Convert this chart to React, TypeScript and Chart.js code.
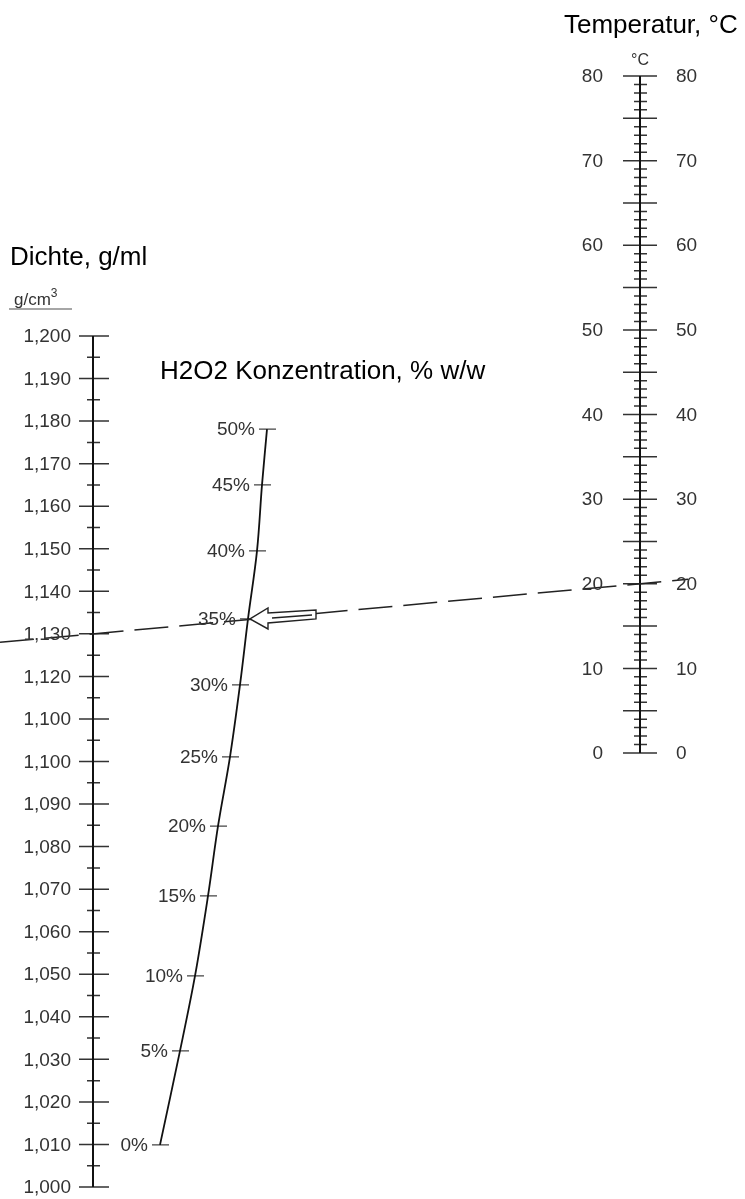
import React, { useEffect, useRef } from "react";
import { Chart, registerables } from "chart.js";
Chart.register(...registerables);

const W = 745;
const H = 1199;

// ---- Data ----
const densityValues = [1.2, 1.19, 1.18, 1.17, 1.16, 1.15, 1.14, 1.13, 1.12, 1.11, 1.1, 1.09, 1.08, 1.07, 1.06, 1.05, 1.04, 1.03, 1.02, 1.01, 1.0];
const densityLabels = ["1,200", "1,190", "1,180", "1,170", "1,160", "1,150", "1,140", "1,130", "1,120", "1,100", "1,100", "1,090", "1,080", "1,070", "1,060", "1,050", "1,040", "1,030", "1,020", "1,010", "1,000"];
const densityMinor = [1.195, 1.185, 1.175, 1.165, 1.155, 1.145, 1.135, 1.125, 1.115, 1.105, 1.095, 1.085, 1.075, 1.065, 1.055, 1.045, 1.035, 1.025, 1.015, 1.005];

const tempValues = [0, 10, 20, 30, 40, 50, 60, 70, 80];
const tempLabels = ["0", "10", "20", "30", "40", "50", "60", "70", "80"];
const tempHalf = [5, 15, 25, 35, 45, 55, 65, 75];
const TEMP_MINOR_STEP = 1;

const concLabels = ["0%", "5%", "10%", "15%", "20%", "25%", "30%", "35%", "40%", "45%", "50%"];
// position of each concentration mark, expressed on the density scale level
const concLevel = [1.0099, 1.032, 1.0496, 1.0684, 1.0848, 1.1011, 1.118, 1.1335, 1.1495, 1.165, 1.1781];
// horizontal position of each concentration mark (nomogram width units)
const concX = [160, 180, 195, 208, 218, 230, 240, 248, 257, 262, 267];

const readingDensity = 1.13;
const readingTemp = 20;

// ---- Layout ----
const X_D = 93; // density axis
const X_T = 640; // temperature axis
const D_TOP_PX = 336, D_BOT_PX = 1187; // 1.200 / 1.000
const T_TOP_PX = 76, T_BOT_PX = 753; // 80 / 0
const dPx = (D_BOT_PX - D_TOP_PX) / 0.2;
const tPx = (T_BOT_PX - T_TOP_PX) / 80;

const FONT = "'Liberation Sans', Arial, Helvetica, sans-serif";

function segs(values: number[], x0: number, x1: number) {
  const out: any[] = [];
  values.forEach((v) => {
    out.push({ x: x0, y: v }, { x: x1, y: v }, { x: NaN, y: NaN });
  });
  return out;
}

export default function App() {
  const ref = useRef<HTMLCanvasElement | null>(null);
  useEffect(() => {
    if (!ref.current) return;
    const tempMinor: number[] = [];
    for (let t = 0; t <= 80; t += TEMP_MINOR_STEP) if (t % 5 !== 0) tempMinor.push(t);

    const concTickData: any[] = [];
    concLevel.forEach((lv, i) => {
      concTickData.push({ x: concX[i] - 8, y: lv }, { x: concX[i] + 9, y: lv }, { x: NaN, y: NaN });
    });

    const base = {
      showLine: true,
      pointRadius: 0,
      fill: false,
      spanGaps: false,
      tension: 0,
    };

    const textPlugin = {
      id: "nomoText",
      afterDatasetsDraw(chart: any) {
        const ctx = chart.ctx;
        const sx = chart.scales.x;
        const sd = chart.scales.yD;
        const st = chart.scales.yT;
        ctx.save();
        // dashed reading line
        const ax = sx.getPixelForValue(X_D), ay = sd.getPixelForValue(readingDensity);
        const bx = sx.getPixelForValue(X_T), by = st.getPixelForValue(readingTemp);
        const slope = (by - ay) / (bx - ax);
        const xs = 0, xe = 688;
        ctx.beginPath();
        ctx.setLineDash([34, 11]);
        ctx.lineWidth = 1.5;
        ctx.strokeStyle = "#222";
        ctx.moveTo(xs, ay + slope * (xs - ax));
        ctx.lineTo(xe, ay + slope * (xe - ax));
        ctx.stroke();
        ctx.setLineDash([]);

        // arrow at 35%
        const i35 = concLabels.indexOf("35%");
        const px = sx.getPixelForValue(concX[i35]) + 2;
        const py = sd.getPixelForValue(concLevel[i35]);
        ctx.beginPath();
        ctx.moveTo(px, py);
        ctx.lineTo(px + 18, py - 11);
        ctx.lineTo(px + 18, py - 6);
        ctx.lineTo(px + 66, py - 9);
        ctx.lineTo(px + 66, py + 0);
        ctx.lineTo(px + 18, py + 4);
        ctx.lineTo(px + 18, py + 10);
        ctx.closePath();
        ctx.fillStyle = "#fff";
        ctx.fill();
        ctx.lineWidth = 1.4;
        ctx.strokeStyle = "#222";
        ctx.stroke();
        ctx.beginPath();
        ctx.moveTo(px + 22, py - 1);
        ctx.lineTo(px + 62, py - 4);
        ctx.stroke();

        // density labels
        ctx.fillStyle = "#333";
        ctx.font = `19px ${FONT}`;
        ctx.textAlign = "right";
        ctx.textBaseline = "middle";
        densityValues.forEach((v, i) => {
          ctx.fillText(densityLabels[i], sx.getPixelForValue(X_D) - 22, sd.getPixelForValue(v) + 1);
        });
        // temperature labels
        tempValues.forEach((v, i) => {
          const y = st.getPixelForValue(v) + 1;
          ctx.textAlign = "right";
          ctx.fillText(tempLabels[i], sx.getPixelForValue(X_T) - 37, y);
          ctx.textAlign = "left";
          ctx.fillText(tempLabels[i], sx.getPixelForValue(X_T) + 36, y);
        });
        // concentration labels
        ctx.textAlign = "right";
        concLevel.forEach((lv, i) => {
          ctx.fillText(concLabels[i], sx.getPixelForValue(concX[i]) - 12, sd.getPixelForValue(lv) + 1);
        });

        // titles
        ctx.fillStyle = "#000";
        ctx.textAlign = "left";
        ctx.font = `26px ${FONT}`;
        ctx.fillText("Temperatur, °C", 564, 26);
        ctx.fillText("Dichte, g/ml", 10, 258);
        ctx.fillText("H2O2 Konzentration, % w/w", 160, 372);

        ctx.fillStyle = "#333";
        ctx.font = `16px ${FONT}`;
        ctx.textAlign = "center";
        ctx.fillText("°C", sx.getPixelForValue(X_T), 61);

        ctx.textAlign = "left";
        ctx.textBaseline = "alphabetic";
        ctx.font = `17px ${FONT}`;
        ctx.fillText("g/cm", 14, 305);
        const wg = ctx.measureText("g/cm").width;
        ctx.font = `12px ${FONT}`;
        ctx.fillText("3", 14 + wg, 297);
        ctx.beginPath();
        ctx.strokeStyle = "#888";
        ctx.lineWidth = 1.5;
        ctx.moveTo(9, 309);
        ctx.lineTo(72, 309);
        ctx.stroke();
        ctx.restore();
      },
    };

    const chart = new Chart(ref.current, {
      type: "scatter",
      data: {
        datasets: [
          { ...base, data: [{ x: X_D, y: 1.0 }, { x: X_D, y: 1.2 }], borderColor: "#111", borderWidth: 2, yAxisID: "yD" },
          { ...base, data: segs(densityValues, X_D - 14, X_D + 16), borderColor: "#333", borderWidth: 1.5, yAxisID: "yD" },
          { ...base, data: segs(densityMinor, X_D - 6, X_D + 7), borderColor: "#333", borderWidth: 1.5, yAxisID: "yD" },
          { ...base, data: [{ x: X_T, y: 0 }, { x: X_T, y: 80 }], borderColor: "#111", borderWidth: 2, yAxisID: "yT" },
          { ...base, data: segs([...tempValues, ...tempHalf], X_T - 17, X_T + 17), borderColor: "#333", borderWidth: 1.5, yAxisID: "yT" },
          { ...base, data: segs(tempMinor, X_T - 6, X_T + 7), borderColor: "#333", borderWidth: 1.5, yAxisID: "yT" },
          { ...base, data: concLevel.map((lv, i) => ({ x: concX[i], y: lv })), borderColor: "#111", borderWidth: 1.8, tension: 0.35, yAxisID: "yD" },
          { ...base, data: concTickData, borderColor: "#444", borderWidth: 1.2, yAxisID: "yD" },
        ],
      },
      options: {
        animation: false,
        responsive: false,
        maintainAspectRatio: false,
        layout: { padding: 0 },
        plugins: { legend: { display: false }, tooltip: { enabled: false }, title: { display: false } },
        scales: {
          x: { type: "linear", min: 0, max: W, display: false },
          yD: { type: "linear", position: "left", min: 1.0 - (H - D_BOT_PX) / dPx, max: 1.2 + D_TOP_PX / dPx, display: false },
          yT: { type: "linear", position: "right", min: 0 - (H - T_BOT_PX) / tPx, max: 80 + T_TOP_PX / tPx, display: false },
        },
      },
      plugins: [textPlugin],
    });
    return () => chart.destroy();
  }, []);
  return (
    <div style={{ position: "absolute", left: 0, top: 0, width: W, height: H, background: "#fff" }}>
      <canvas ref={ref} width={W} height={H} style={{ width: W, height: H, display: "block" }} />
    </div>
  );
}
